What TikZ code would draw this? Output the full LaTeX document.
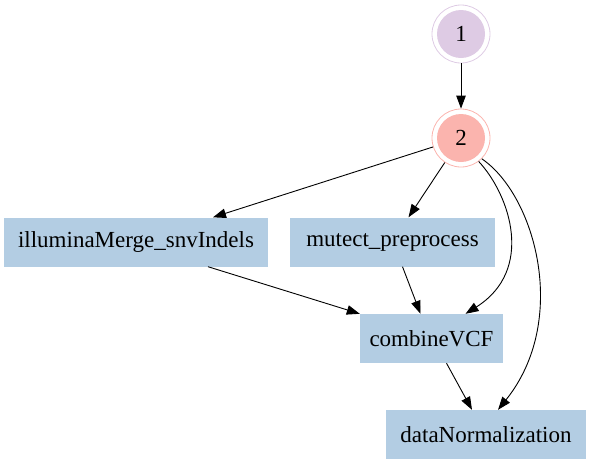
\documentclass[tikz,border=0pt]{standalone}
\usepackage{fontspec}
\setmainfont{Liberation Serif}
\usetikzlibrary{arrows.meta}
\definecolor{cone}{HTML}{DECBE4}
\definecolor{ctwo}{HTML}{FBB4AE}
\definecolor{cbox}{HTML}{B3CDE3}
\begin{document}
\begin{tikzpicture}[x=1pt,y=-1pt,
  every node/.style={font=\fontsize{23}{26}\selectfont},
  dcirc/.style={circle, minimum size=58pt, inner sep=0pt, draw=#1, line width=0.8pt,
    path picture={\fill[#1] (path picture bounding box.center) circle (24pt);}},
  taskbox/.style={rectangle, fill=cbox, minimum height=49pt, inner sep=0pt},
  arr/.style={-{Triangle[length=13pt,width=9.5pt]}, line width=0.9pt}]
\useasboundingbox (0,0) rectangle (591,464);
\node[dcirc=cone] (n1) at (461,34) {1};
\node[dcirc=ctwo] (n2) at (461,138) {2};
\node[taskbox, minimum width=264pt] (ill) at (136,242) {illuminaMerge\_snvIndels};
\node[taskbox, minimum width=205pt] (mut) at (392.5,242) {mutect\_preprocess};
\node[taskbox, minimum width=143pt] (cvcf) at (431.5,338.5) {combineVCF};
\node[taskbox, minimum width=200pt] (dn) at (486,434.5) {dataNormalization};
\draw[arr] (n1) -- (n2);
\draw[arr] (n2) -- ([xshift=77]ill.north);
\draw[arr] (n2) -- ([xshift=16]mut.north);
\draw[arr] (n2.-53) .. controls (510,195) and (535,270) .. ([xshift=34]cvcf.north);
\draw[arr] (n2.-45) .. controls (535,195) and (570,320) .. ([xshift=12]dn.north);
\draw[arr] ([xshift=72]ill.south) -- (cvcf.north west);
\draw[arr] ([xshift=10]mut.south) -- ([xshift=-11]cvcf.north);
\draw[arr] ([xshift=15]cvcf.south) -- ([xshift=-14]dn.north);
\end{tikzpicture}
\end{document}
